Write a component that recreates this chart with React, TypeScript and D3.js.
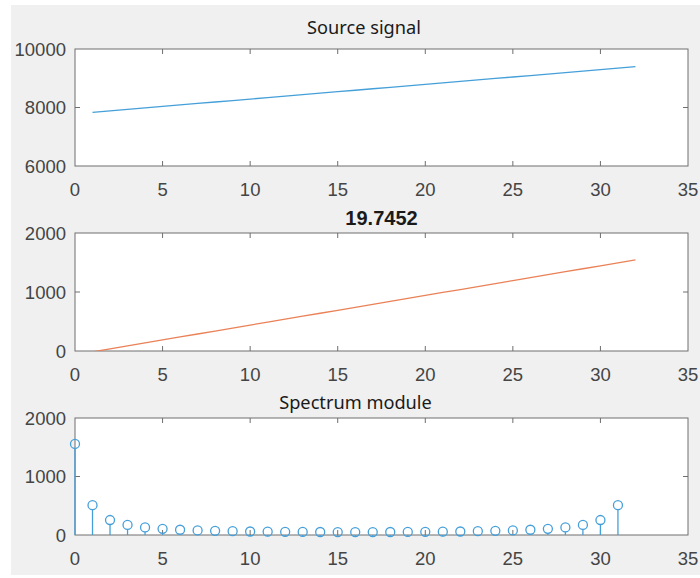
import React from "react";
import * as d3 from "d3";

// samples 1..32
const sampleIdx = d3.range(1, 33);
const sourceSignal = [
  7836, 7886, 7937, 7987, 8037, 8088, 8138, 8188, 8238, 8289, 8339, 8389, 8440, 8490, 8540, 8590,
  8641, 8691, 8741, 8792, 8842, 8892, 8942, 8993, 9043, 9093, 9144, 9194, 9244, 9294, 9345, 9395,
];
const centered = [
  -14, 36, 87, 137, 187, 238, 288, 338, 388, 439, 489, 539, 590, 640, 690, 740,
  791, 841, 891, 942, 992, 1042, 1092, 1143, 1193, 1243, 1294, 1344, 1394, 1444, 1495, 1545,
];
// bins 0..31
const binIdx = d3.range(0, 32);
const spectrum = [
  1556, 510, 256, 172, 130, 106, 90, 79, 71, 65, 60, 57, 54, 52, 51, 50,
  50, 50, 51, 52, 54, 57, 60, 65, 71, 79, 90, 106, 130, 172, 256, 510,
];

const xTicks = [0, 5, 10, 15, 20, 25, 30, 35];

const W = 700;
const H = 578;
const left = 75;
const right = 688;
const tickFont = "Liberation Sans, Arial, sans-serif";
const titleFont = "Noto Sans, Open Sans, sans-serif";

type PanelProps = {
  top: number;
  bottom: number;
  yDomain: [number, number];
  yTicks: number[];
  clip?: boolean;
  children: (x: d3.ScaleLinear<number, number>, y: d3.ScaleLinear<number, number>) => React.ReactNode;
};

function Panel({ top, bottom, yDomain, yTicks, clip = true, children }: PanelProps) {
  const x = d3.scaleLinear().domain([0, 35]).range([left, right]);
  const y = d3.scaleLinear().domain(yDomain).range([bottom, top]);
  const tl = 5;
  const clipId = `clip-${top}`;
  return (
    <g>
      <rect x={left} y={top} width={right - left} height={bottom - top} fill="#fff" />
      <clipPath id={clipId}>
        <rect x={left} y={top} width={right - left} height={bottom - top} />
      </clipPath>
      <g stroke="#6e6e6e" strokeWidth={1}>
        {xTicks.slice(1, -1).map((t) => (
          <g key={`xt${t}`}>
            <line x1={x(t)} x2={x(t)} y1={bottom} y2={bottom - tl} />
            <line x1={x(t)} x2={x(t)} y1={top} y2={top + tl} />
          </g>
        ))}
        {yTicks.slice(1, -1).map((t) => (
          <g key={`yt${t}`}>
            <line x1={left} x2={left + tl} y1={y(t)} y2={y(t)} />
            <line x1={right} x2={right - tl} y1={y(t)} y2={y(t)} />
          </g>
        ))}
        <rect x={left} y={top} width={right - left} height={bottom - top} fill="none" />
      </g>
      <g clipPath={clip ? `url(#${clipId})` : undefined}>{children(x, y)}</g>
      <g fill="#454545" fontFamily={tickFont} fontSize={18.5}>
        {xTicks.map((t) => (
          <text key={`xl${t}`} x={x(t)} y={bottom + 30} textAnchor="middle">
            {t}
          </text>
        ))}
        {yTicks.map((t) => (
          <text key={`yl${t}`} x={left - 9} y={y(t) + 6.5} textAnchor="end">
            {t}
          </text>
        ))}
      </g>
    </g>
  );
}

export default function App() {
  const blue = "#459fd9";
  const orange = "#ea8157";
  return (
    <svg width={W} height={H} style={{ position: "absolute", left: 0, top: 0 }}>
      <rect width={W} height={H} fill="#fff" />
      <rect x={11} y={5} width={W - 11} height={570} fill="#f0f0f0" />

      <Panel top={49} bottom={166} yDomain={[6000, 10000]} yTicks={[6000, 8000, 10000]}>
        {(x, y) => (
          <path
            d={d3.line<number>().x((d) => x(d)).y((_, i) => y(sourceSignal[i]))(sampleIdx) || ""}
            fill="none"
            stroke={blue}
            strokeWidth={1.3}
          />
        )}
      </Panel>
      <text x={364} y={34} textAnchor="middle" fontFamily={titleFont} fontSize={18.2} fill="#1a1a1a">
        Source signal
      </text>

      <Panel top={233} bottom={351} yDomain={[0, 2000]} yTicks={[0, 1000, 2000]}>
        {(x, y) => (
          <path
            d={d3.line<number>().x((d) => x(d)).y((_, i) => y(centered[i]))(sampleIdx) || ""}
            fill="none"
            stroke={orange}
            strokeWidth={1.3}
          />
        )}
      </Panel>
      <text x={381.5} y={225} textAnchor="middle" fontFamily={tickFont} fontWeight="bold" fontSize={20} fill="#1a1a1a">
        19.7452
      </text>

      <Panel top={418} bottom={535} yDomain={[0, 2000]} yTicks={[0, 1000, 2000]} clip={false}>
        {(x, y) => (
          <g stroke={blue} strokeWidth={1.3} fill="none">
            {binIdx.map((k, i) => (
              <g key={k}>
                <line x1={x(k)} x2={x(k)} y1={y(0)} y2={y(spectrum[i]) + 4.5} />
                <circle cx={x(k)} cy={y(spectrum[i])} r={4.5} />
              </g>
            ))}
          </g>
        )}
      </Panel>
      <text x={355.5} y={409} textAnchor="middle" fontFamily={titleFont} fontSize={18.2} fill="#1a1a1a">
        Spectrum module
      </text>
    </svg>
  );
}
